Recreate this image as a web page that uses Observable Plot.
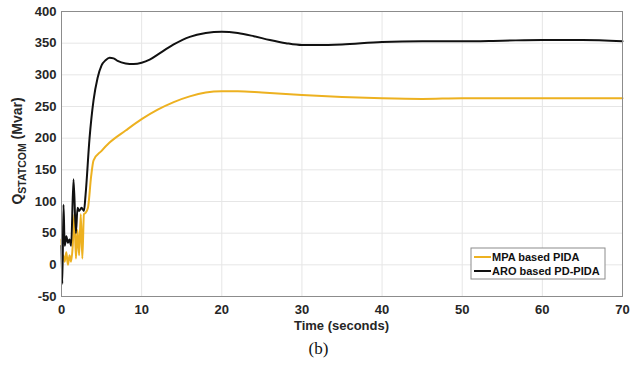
<!DOCTYPE html>
<html>
<head>
<meta charset="utf-8">
<script src="https://cdn.jsdelivr.net/npm/d3@7"></script>
<script src="https://cdn.jsdelivr.net/npm/@observablehq/plot@0.6"></script>
<style>
  body { margin: 0; background: #fff; }
  #wrap { width: 643px; position: relative; }
  #cap { text-align: center; font-family: "Liberation Serif", "DejaVu Serif", serif; font-size: 17px; color: #111; margin-top: 0px; line-height: 22px; padding-right: 6px; }
</style>
</head>
<body>
<div id="wrap"><div id="chart"></div><div id="cap">(b)</div></div>
<script>
const aroT = [0,0.1,0.25,0.4,0.6,0.8,1.0,1.2,1.5,1.8,2.0,2.2,2.5,2.8,3.0,3.5,4,4.5,5,5.5,6,6.5,7,8,9,10,11,12,14,16,18,20,22,24,26,28,30,32,35,40,45,50,55,60,65,70];
const aroQ = [30,-30,95,30,45,35,40,30,135,50,90,85,90,85,110,200,260,295,315,323,327,326,322,318,317,319,324,332,348,360,366,368,366,361,355,350,347,347,348,352,353,353,354,355,355,353];
const mpaT = [0,0.1,0.2,0.4,0.6,0.8,1.0,1.2,1.4,1.6,1.8,2.0,2.2,2.4,2.6,2.8,3.0,3.3,3.7,4,5,6,8,10,12,14,16,18,20,22,25,30,35,40,45,50,60,70];
const mpaQ = [40,10,15,5,20,0,15,5,30,80,10,55,15,80,10,80,82,90,140,165,180,193,212,230,245,257,266,272,274,274,272,268,265,263,262,263,263,263];
const xTicks = [0,10,20,30,40,50,60,70];
const yTicks = [-50,0,50,100,150,200,250,300,350,400];
const seriesNames = ["MPA based PIDA", "ARO based PD-PIDA"];
const seriesColors = ["#EDB120", "#111111"];

const data = [
  ...mpaT.map((t,i)=>({t, q: mpaQ[i], s: seriesNames[0]})),
  ...aroT.map((t,i)=>({t, q: aroQ[i], s: seriesNames[1]}))
];

const font = "'Liberation Sans', Arial, sans-serif";
const plot = Plot.plot({
  width: 643,
  height: 338,
  marginLeft: 61,
  marginRight: 21,
  marginTop: 11,
  marginBottom: 42,
  style: {fontFamily: font, fontSize: "13px", fontWeight: "bold", color: "#262626", background: "#fff"},
  x: {domain: [0,70], ticks: xTicks, label: null},
  y: {domain: [-50,400], ticks: yTicks, label: null},
  color: {domain: seriesNames, range: seriesColors},
  marks: [
    Plot.gridX(xTicks, {stroke: "#e6e6e6", strokeOpacity: 1}),
    Plot.gridY(yTicks, {stroke: "#e6e6e6", strokeOpacity: 1}),
    Plot.axisX(xTicks, {tickSize: 0, tickPadding: 8, fontSize: 13, fontWeight: "bold", tickFormat: d => String(d)}),
    Plot.axisY(yTicks, {tickSize: 0, tickPadding: 5, fontSize: 13, fontWeight: "bold", tickFormat: d => String(d)}),
    Plot.line(data, {x: "t", y: "q", z: "s", stroke: "s", strokeWidth: 2, curve: "monotone-x"}),
    Plot.frame({stroke: "#8c8c8c", strokeWidth: 1})
  ]
});
document.getElementById("chart").appendChild(plot);

const svg = d3.select(plot);
// x label
svg.append("text").attr("x", 61 + (643-61-21)/2).attr("y", 330)
  .attr("text-anchor", "middle").attr("font-family", font).attr("font-weight", "bold")
  .attr("font-size", 13).attr("fill", "#262626").text("Time (seconds)");
// y label with subscript
const yl = svg.append("text").attr("transform", `translate(22, ${11 + 280/2}) rotate(-90)`)
  .attr("text-anchor", "middle").attr("font-family", font).attr("font-weight", "bold")
  .attr("font-size", 14).attr("fill", "#262626");
yl.append("tspan").text("Q");
yl.append("tspan").attr("font-size", 10.5).attr("dy", 4).text("STATCOM");
yl.append("tspan").attr("dy", -4).text(" (Mvar)");

// legend
const lg = svg.append("g").attr("transform", "translate(471,248)");
lg.append("rect").attr("width", 134).attr("height", 31).attr("fill", "#fff").attr("stroke", "#8c8c8c");
seriesNames.forEach((n, i) => {
  const yy = 9 + i*14;
  lg.append("line").attr("x1", 3).attr("x2", 20).attr("y1", yy).attr("y2", yy)
    .attr("stroke", seriesColors[i]).attr("stroke-width", 2);
  lg.append("text").attr("x", 21).attr("y", yy + 4).attr("font-family", font)
    .attr("text-anchor", "start")
    .attr("font-weight", "bold").attr("font-size", 11).attr("fill", "#111").text(n);
});
</script>
</body>
</html>
